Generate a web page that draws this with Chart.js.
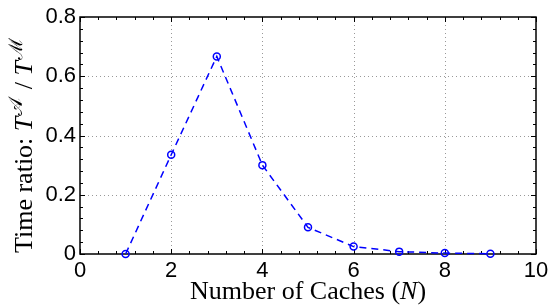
<!DOCTYPE html>
<html><head><meta charset="utf-8">
<script src="https://cdn.jsdelivr.net/npm/chart.js@4/dist/chart.umd.min.js"></script>
<style>html,body{margin:0;padding:0;background:#fff;}</style>
</head><body>
<canvas id="c" width="549" height="306"></canvas>
<script>
// ---- data ----
const cacheCounts = [1, 2, 3, 4, 5, 6, 7, 8, 9];
const timeRatio = [0, 0.335, 0.667, 0.300, 0.090, 0.025, 0.008, 0.003, 0.001];
const xTickValues = [0, 2, 4, 6, 8, 10];
const yTickValues = [0, 0.2, 0.4, 0.6, 0.8];
const xTitleParts = [['Number of Caches (', ''], ['N', 'italic '], [')', '']];
const yTitleParts = [['Time ratio: ', ''], ['T', 'italic '], ['\uD835\uDC9C', 'sup'], [' / ', ''], ['T', 'italic '], ['\u2133', 'sup']];

const SERIF = '"Liberation Serif", "DejaVu Serif", serif';
const SANS = '"Liberation Sans", Arial, Helvetica, sans-serif';

const frame = {
  id: 'frame',
  beforeDatasetsDraw(chart) {
    const {ctx, chartArea: a, scales: {x, y}} = chart;
    ctx.save();
    // dotted grid at major ticks
    ctx.strokeStyle = '#999';
    ctx.lineWidth = 1;
    ctx.setLineDash([1, 3]);
    xTickValues.forEach(v => {
      if (v <= x.min || v >= x.max) return;
      const px = Math.round(x.getPixelForValue(v)) + 0.5;
      ctx.beginPath(); ctx.moveTo(px, a.top); ctx.lineTo(px, a.bottom); ctx.stroke();
    });
    yTickValues.forEach(v => {
      if (v <= y.min || v >= y.max) return;
      const py = Math.round(y.getPixelForValue(v)) + 0.5;
      ctx.beginPath(); ctx.moveTo(a.left, py); ctx.lineTo(a.right, py); ctx.stroke();
    });
    ctx.setLineDash([]);
    // inward tick marks, major + minor
    ctx.strokeStyle = '#000';
    ctx.lineWidth = 1;
    for (let i = 0; i <= 25; i++) {
      const v = i * 0.4;
      const len = i % 5 === 0 ? 5 : 3;
      const px = Math.round(x.getPixelForValue(v)) + 0.5;
      ctx.beginPath();
      ctx.moveTo(px, a.bottom); ctx.lineTo(px, a.bottom - len);
      ctx.moveTo(px, a.top); ctx.lineTo(px, a.top + len);
      ctx.stroke();
    }
    for (let i = 0; i <= 20; i++) {
      const v = i * 0.04;
      const len = i % 5 === 0 ? 5 : 3;
      const py = Math.round(y.getPixelForValue(v)) + 0.5;
      ctx.beginPath();
      ctx.moveTo(a.left, py); ctx.lineTo(a.left + len, py);
      ctx.moveTo(a.right, py); ctx.lineTo(a.right - len, py);
      ctx.stroke();
    }
    // box
    ctx.lineWidth = 1.5;
    ctx.strokeRect(a.left, a.top, a.right - a.left, a.bottom - a.top);
    ctx.restore();
  },
  afterDraw(chart) {
    const {ctx, chartArea: a} = chart;
    ctx.save();
    ctx.fillStyle = '#000';
    ctx.textBaseline = 'alphabetic';
    ctx.textAlign = 'left';
    // x title
    const xs = 26;
    let total = 0;
    xTitleParts.forEach(([t, st]) => { ctx.font = st + xs + 'px ' + SERIF; total += ctx.measureText(t).width; });
    let cx = (a.left + a.right) / 2 - total / 2;
    xTitleParts.forEach(([t, st]) => {
      ctx.font = st + xs + 'px ' + SERIF;
      ctx.fillText(t, cx, 299);
      cx += ctx.measureText(t).width;
    });
    // y title (rotated)
    const ys = 26, sup = 19;
    ctx.translate(32, 253);
    ctx.rotate(-Math.PI / 2);
    let px = 0;
    yTitleParts.forEach(([t, st]) => {
      if (st === 'sup') {
        ctx.font = sup + 'px "DejaVu Serif", "Noto Sans", serif';
        ctx.fillText(t, px + 1, -10);
        px += ctx.measureText(t).width + 3;
      } else {
        ctx.font = st + ys + 'px ' + SERIF;
        ctx.fillText(t, px, 0);
        px += ctx.measureText(t).width;
      }
    });
    ctx.restore();
  }
};

new Chart(document.getElementById('c'), {
  type: 'line',
  data: {
    datasets: [{
      data: cacheCounts.map((n, i) => ({x: n, y: timeRatio[i]})),
      borderColor: '#0000ff',
      borderWidth: 1.5,
      borderDash: [7, 5],
      pointRadius: 3.5,
      pointHoverRadius: 3.5,
      pointBorderWidth: 1.5,
      pointBorderColor: '#0000ff',
      pointBackgroundColor: 'rgba(0,0,0,0)',
      tension: 0,
      fill: false,
      clip: false
    }]
  },
  options: {
    responsive: false,
    animation: false,
    devicePixelRatio: 1,
    layout: {padding: {left: 0, right: 13, top: 17, bottom: 0}},
    plugins: {legend: {display: false}, tooltip: {enabled: false}},
    events: [],
    scales: {
      x: {
        type: 'linear', min: 0, max: 10,
        afterBuildTicks: s => { s.ticks = xTickValues.map(v => ({value: v})); },
        ticks: {color: '#000', font: {family: SANS, size: 22}, padding: 4, maxRotation: 0, autoSkip: false},
        grid: {display: false, drawTicks: false},
        border: {display: false},
        afterFit: s => { s.height = 52; s.paddingLeft = 0; s.paddingRight = 0; }
      },
      y: {
        type: 'linear', min: 0, max: 0.8,
        afterBuildTicks: s => { s.ticks = yTickValues.map(v => ({value: v})); },
        ticks: {color: '#000', font: {family: SANS, size: 22}, padding: 4, autoSkip: false,
          callback: v => String(Math.round(v * 10) / 10)},
        grid: {display: false, drawTicks: false},
        border: {display: false},
        afterFit: s => { s.width = 80; s.paddingTop = 0; s.paddingBottom = 0; }
      }
    }
  },
  plugins: [frame]
});
</script>
</body></html>
